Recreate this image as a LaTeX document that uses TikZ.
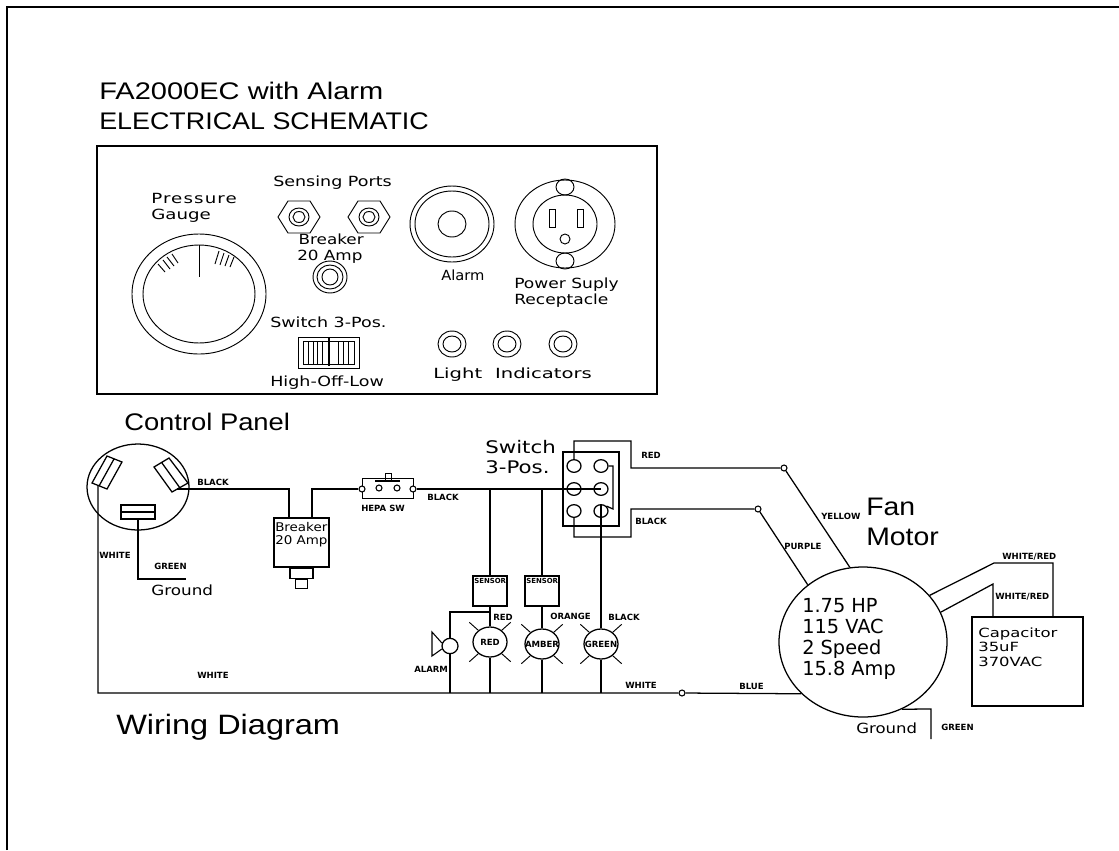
\documentclass[tikz,border=0pt]{standalone}
\usepackage{fontspec}
\setmainfont{Liberation Sans}
\setsansfont{DejaVu Sans}
\usetikzlibrary{positioning,shapes}
\tikzset{
  wire/.style    = {draw, line width=0.95pt},
  thinline/.style= {draw, line width=0.7pt},
  title/.style   = {font=\rmfamily\fontsize{18}{20}\selectfont\addfontfeature{FakeStretch=#1}, inner sep=0pt, anchor=west},
  bigtitle/.style= {font=\rmfamily\fontsize{19}{24}\selectfont\addfontfeature{FakeStretch=1.12}, inner sep=0pt, anchor=west},
  wiringtitle/.style= {font=\rmfamily\fontsize{21}{24}\selectfont\addfontfeature{FakeStretch=1.16}, inner sep=0pt, anchor=west},
  cad/.style     = {font=\sffamily\fontsize{10.5}{12}\selectfont\addfontfeature{FakeStretch=#1}, inner sep=0pt, anchor=west, align=left},
  cad/.default   = 1.25,
  cadsmall/.style= {font=\sffamily\fontsize{9.5}{10.8}\selectfont\addfontfeature{FakeStretch=#1}, inner sep=0pt, anchor=west, align=left},
  cadlarge/.style= {font=\sffamily\fontsize{14.5}{15.6}\selectfont, inner sep=0pt, anchor=west, align=left},
  tag/.style     = {font=\sffamily\bfseries\fontsize{6.4}{7}\selectfont, inner sep=0pt, anchor=west},
  sensortag/.style = {font=\sffamily\bfseries\fontsize{5.2}{6}\selectfont, inner sep=0pt, anchor=west},
  pin/.style     = {draw, ellipse, line width=0.95pt, inner sep=0pt, minimum width=10.5pt, minimum height=9.5pt},
  joint/.style   = {draw, circle, line width=0.8pt, fill=white, inner sep=0pt, minimum size=4.5pt},
  lamp/.style    = {draw, ellipse, line width=0.95pt, inner sep=0pt, minimum width=25.5pt, minimum height=22.5pt,
                    fill=white},
  sensorbox/.style = {draw, rectangle, line width=1.1pt, inner sep=0pt, minimum width=25.5pt, minimum height=22.5pt},
  ray/.style     = {draw, line width=0.7pt}
}

\begin{document}
\begin{tikzpicture}[x=0.75pt,y=-0.75pt]
\useasboundingbox (0,0) rectangle (1119,850);

% outer sheet border, cut by the page on two sides
\draw[line width=1.5pt] (7,850) -- (7,7) -- (1119,7);

% titles
\node[title=1.21] (titleone) at (99,91) {FA2000EC with Alarm};
\node[title=1.12] (titletwo) at (99,121) {ELECTRICAL SCHEMATIC};
\node[title=1.14] (titlepanel) at (124,422) {Control Panel};
\node[bigtitle] (titlefan) at (866,507) {Fan};
\node[bigtitle] (titlemotor) at (866,537) {Motor};
\node[wiringtitle] (titlewiring) at (116,727) {Wiring Diagram};

% The control panel
\draw[thinline, line width=0.9pt] (97,146) rectangle (657,394);
\begin{scope}[thinline]
% pressure gauge
\draw (199,294) ellipse [x radius=67, y radius=60];
\draw (199,294) ellipse [x radius=56, y radius=49];
\draw (199,245) -- (199,277);
\draw (158,264) -- (165,272) (163,260) -- (170,269) (167,257) -- (174,266) (172,254) -- (178,263);
\draw (219,251) -- (215,264) (224,253) -- (220,265) (229,255) -- (225,266) (234,257) -- (230,267);
% sensing ports
\draw (278,217) -- (288,201) -- (310,201) -- (320,217) -- (310,233) -- (288,233) -- cycle;
\draw (299,217) ellipse [x radius=10, y radius=9] (299,217) ellipse [x radius=6, y radius=5.5];
\draw (348,217) -- (358,201) -- (380,201) -- (390,217) -- (380,233) -- (358,233) -- cycle;
\draw (369,217) ellipse [x radius=10, y radius=9] (369,217) ellipse [x radius=6, y radius=5.5];
% breaker knob
\draw (330,277) ellipse [x radius=17, y radius=16] (330,277) ellipse [x radius=13, y radius=12]
      (330,277) ellipse [x radius=8, y radius=8];
% rocker switch
\draw (298,337) rectangle (359,368);
\draw (303,341) rectangle (354,364);
\draw (308,341) -- (308,364) (313,341) -- (313,364) (317,341) -- (317,364) (322,341) -- (322,364);
\draw (338,341) -- (338,364) (343,341) -- (343,364) (348,341) -- (348,364);
\draw[line width=1pt] (329,337) -- (329,366);
% alarm
\draw (452,224) ellipse [x radius=42, y radius=38] (452,224) ellipse [x radius=37, y radius=33]
      (452,224) ellipse [x radius=14, y radius=13];
% receptacle
\draw (565,224) ellipse [x radius=50, y radius=44] (565,224) ellipse [x radius=32, y radius=29];
\draw (565,187) ellipse [x radius=9, y radius=8] (565,261) ellipse [x radius=9, y radius=8];
\draw (549,209) rectangle (555,227) (577,209) rectangle (583,227);
\draw (565,239) ellipse [x radius=5, y radius=5];
% light indicators
\draw (452,344) ellipse [x radius=14, y radius=13] (452,344) ellipse [x radius=9, y radius=8];
\draw (507,344) ellipse [x radius=14, y radius=13] (507,344) ellipse [x radius=9, y radius=8];
\draw (563,344) ellipse [x radius=14, y radius=13] (563,344) ellipse [x radius=9, y radius=8];
\end{scope}

\node[cad] (lblports) at (273,183) {Sensing Ports};
\node[cad=1.3] (lblgauge) at (151,208) {{\addfontfeature{LetterSpace=8}Pressure}\\Gauge};
\node[cad=1.2] (lblbreaker) at (297,249) {\hspace{1pt}Breaker\\20 Amp};
\node[cad] (lblswitch) at (270,322) {Switch 3-Pos.};
\node[cad] (lblhigh) at (270,383) {High-Off-Low};
\node[cad=1.05] (lblalarm) at (441,275) {Alarm};
\node[cad=1.22] (lblpower) at (514,293) {Power Suply\\Receptacle};
\node[cad=1.4] (lbllights) at (433,375) {Light\hspace{5pt} Indicators};

% The wiring, plug first
\node[draw, ellipse, line width=0.95pt, inner sep=0pt, minimum width=76.5pt, minimum height=64.5pt] (plug) at (138,487) {};
\begin{scope}[wire]
\draw (107,456) -- (122,462) -- (107,489) -- (92,483) -- cycle (114,459) -- (99,486);
\draw (154,467) -- (169,458) -- (188,483) -- (172,492) -- cycle (162,463) -- (180,488);
\draw[line width=1.2pt] (121,505) rectangle (155,519) (121,512) -- (155,512);
\end{scope}
\coordinate (plughot) at (177,489);
\coordinate (plugneutral) at (98,486);
\coordinate (pluggnd) at (138,519);
\coordinate (gndend) at (186,579);

% breaker and hepa switch
\node[draw, rectangle, line width=1.1pt, inner sep=0pt, minimum width=41pt, minimum height=36.75pt] (breaker) at (301.5,542.5) {};
\node[draw, rectangle, line width=0.95pt, inner sep=0pt, minimum width=17.25pt, minimum height=7.5pt, below=0pt of breaker] (breakerneck) {};
\node[draw, rectangle, line width=0.95pt, inner sep=0pt, minimum width=9pt, minimum height=6.75pt, below=0pt of breakerneck] (breakerbtn) {};
\coordinate (breakerin) at (289,518);
\coordinate (breakerout) at (312,518);

\node[joint] (hepaa) at (362,489) {};
\node[joint] (hepab) at (379,488) {};
\node[joint] (hepac) at (397,488) {};
\node[joint] (hepad) at (413,489) {};
\draw[thinline] (362,486) -- (362,478) -- (413,478) -- (413,486) (362,492) -- (362,498) -- (413,498) -- (413,492);
\draw[line width=1.6pt] (375,481) -- (400,481);
\draw[thinline] (385,480) -- (385,473) -- (391,473) -- (391,480);

% switch 3-pos
\node[draw, rectangle, line width=1.1pt, inner sep=0pt, minimum width=42pt, minimum height=55.5pt] (switchbox) at (591,489) {};
\node[pin] (pinta) at (574,466) {};
\node[pin] (pintb) at (601,466) {};
\node[pin] (pinma) at (574,489) {};
\node[pin] (pinmb) at (601,489) {};
\node[pin] (pinba) at (574,511) {};
\node[pin] (pinbb) at (601,511) {};

% sensors and lamps
\node[sensorbox] (sensora) at (490,591) {};
\node[sensorbox] (sensorb) at (542,591) {};
\node[lamp, label={[tag, anchor=center]center:RED}] (lampred) at (490,642) {};
\node[lamp, label={[tag, anchor=center]center:AMBER}] (lampamber) at (542,644) {};
\node[lamp, label={[tag, anchor=center]center:GREEN}] (lampgreen) at (601,644) {};
\draw[ray] (lampred.135) -- ++(-9,-8) (lampred.45) -- ++(9,-8) (lampred.225) -- ++(-9,8) (lampred.315) -- ++(9,8);
\draw[ray] (lampamber.135) -- ++(-9,-8) (lampamber.45) -- ++(9,-8) (lampamber.225) -- ++(-9,8) (lampamber.315) -- ++(9,8);
\draw[ray] (lampgreen.135) -- ++(-9,-8) (lampgreen.45) -- ++(9,-8) (lampgreen.225) -- ++(-9,8) (lampgreen.315) -- ++(9,8);

% alarm horn
\node[draw, ellipse, line width=0.95pt, inner sep=0pt, minimum width=12pt, minimum height=11.5pt] (horn) at (450,646) {};
\draw[thinline, line width=0.8pt] (horn.160) -- (432,632) -- (432,656) -- (horn.200);

% motor and capacitor
\node[draw, ellipse, line width=0.95pt, inner sep=0pt, minimum width=126pt, minimum height=112.5pt] (motor) at (863,642) {};
\node[cadlarge] (motortext) at (802,639) {1.75 HP\\115 VAC\\2 Speed\\15.8 Amp};
\node[draw, rectangle, line width=0.95pt, inner sep=0pt, minimum width=83.25pt, minimum height=66.75pt] (capacitor) at (1027.5,661.5) {};
\node[cadsmall=1.3] (captext) at (978,647) {Capacitor\\35uF\\370VAC};
\coordinate (capa) at (1053,617);
\coordinate (capb) at (993,617);

% joints along the wires
\node[joint] (jointred) at (784,468) {};
\node[joint] (jointblack) at (758,509) {};
\node[joint] (jointwhite) at (682,693) {};
\coordinate (busleft) at (98,693);

% wires between named things
\begin{scope}[wire]
\draw (plughot) -- (breakerin |- plughot) -- (breakerin);
\draw (breakerout) -- (breakerout |- hepaa) -- (hepaa);
\draw (hepad) -- (pinmb.center);
\draw (plugneutral) -- (busleft) -- (jointwhite) -- (motor.220);
\draw (pluggnd) |- (gndend);
\draw (pinta.north) -- (574,441) -- (631,441) -- (631,468) -- (jointred) -- (motor.100.7);
\draw (pinba.south) -- (574,537) -- (631,537) -- (631,509) -- (jointblack) -- (motor.134);
\draw (pintb.east) -- (613,466) -- (613,509) -- (pinbb.north east);
\draw (pinbb.north) -- (lampgreen.north);
\draw (lampgreen.south) -- (lampgreen.south |- busleft);
\draw (sensora.north |- hepad) -- (sensora.north);
\draw (sensora.south) -- (lampred.north);
\draw (lampred.south) -- (lampred.south |- busleft);
\draw (sensorb.north |- hepad) -- (sensorb.north);
\draw (sensorb.south) -- (lampamber.north);
\draw (lampamber.south) -- (lampamber.south |- busleft);
\draw (490,612) -- (450,612) -- (horn.north);
\draw (horn.south) -- (horn.south |- busleft);
\draw (motor.35) -- (994,563) -- (1053,563) -- (capa);
\draw (motor.21.6) -- (993,584) -- (capb);
\draw (motor.300) -- (931,709) -- (931,739);
\end{scope}

% small wire labels
\node[tag] (tagblackone) at (197,482) {BLACK};
\node[tag] (tagwhiteone) at (99,555) {WHITE};
\node[tag] (taggreenone) at (154,566) {GREEN};
\node[cad=1.2] (lblgroundone) at (151,590) {Ground};
\node[tag] (tagwhitetwo) at (197,675) {WHITE};
\node[cadsmall=1.12, font=\sffamily\fontsize{9}{10}\selectfont\addfontfeature{FakeStretch=1.12}] (lblbrk) at (275,535) {Breaker\\20 Amp};
\node[tag] (taghepa) at (361,508) {HEPA SW};
\node[tag] (tagblacktwo) at (427,497) {BLACK};
\node[cad, font=\sffamily\fontsize{13}{15.6}\selectfont\addfontfeature{FakeStretch=1.23}] (lblsw) at (485,457) {Switch\\3-Pos.};
\node[tag] (tagred) at (641,455) {RED};
\node[tag] (tagblackthree) at (635,521) {BLACK};
\node[sensortag] (tagsensa) at (474,581) {SENSOR};
\node[sensortag] (tagsensb) at (526,581) {SENSOR};
\node[tag] (tagredtwo) at (493,617) {RED};
\node[tag] (tagorange) at (550,616) {ORANGE};
\node[tag] (tagblackfour) at (608,617) {BLACK};
\node[tag] (tagalarm) at (414,669) {ALARM};
\node[tag] (tagwhitethree) at (625,685) {WHITE};
\node[tag] (tagblue) at (739,686) {BLUE};
\node[tag] (tagyellow) at (821,516) {YELLOW};
\node[tag] (tagpurple) at (784,546) {PURPLE};
\node[tag] (tagwra) at (1002,557) {WHITE/RED};
\node[tag] (tagwrb) at (995,597) {WHITE/RED};
\node[cad=1.18] (lblgroundtwo) at (856,728) {Ground};
\node[tag] (taggreentwo) at (941,727) {GREEN};
\end{tikzpicture}
\end{document}
